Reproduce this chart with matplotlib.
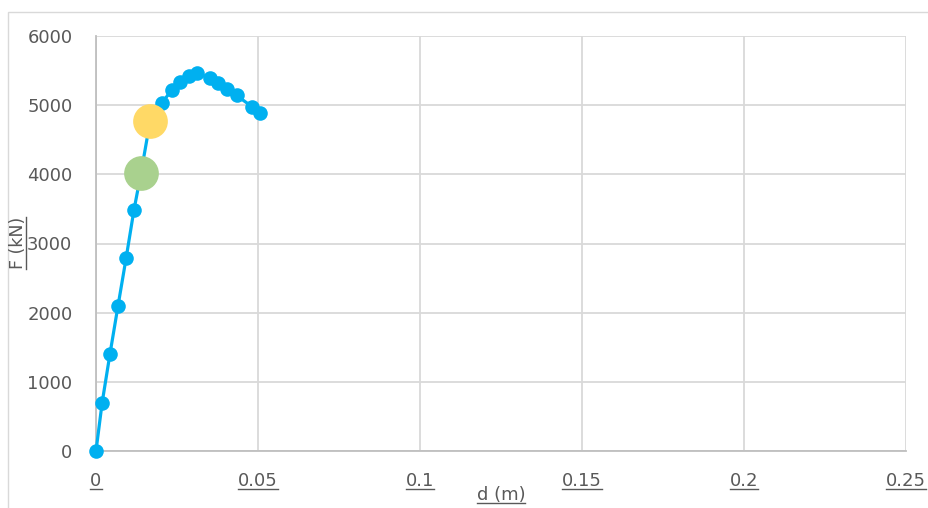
import matplotlib
matplotlib.use("Agg")
import matplotlib.pyplot as plt
from matplotlib.lines import Line2D
from matplotlib.patches import Rectangle

# ---------------------------------------------------------------------------
# Data
# ---------------------------------------------------------------------------
d_curve = [0.0, 0.0019, 0.0043, 0.0068, 0.0093, 0.0117, 0.0139, 0.0167,
           0.0203, 0.0234, 0.0259, 0.0288, 0.0313, 0.0352, 0.0378, 0.0403,
           0.0434, 0.0481, 0.0506]
f_curve = [0, 700, 1400, 2100, 2790, 3480, 4020, 4770,
           5030, 5220, 5330, 5420, 5460, 5390, 5320, 5240,
           5140, 4980, 4880]

d_green = [0.0139]
f_green = [4020]
d_yellow = [0.0167]
f_yellow = [4770]

x_ticks = [0, 0.05, 0.1, 0.15, 0.2, 0.25]
x_tick_labels = ["0", "0.05", "0.1", "0.15", "0.2", "0.25"]
y_ticks = [0, 1000, 2000, 3000, 4000, 5000, 6000]

BLUE = "#00B0F0"
GREEN = "#A9D18E"
YELLOW = "#FFD966"
TEXT_GRAY = "#595959"
GRID_GRAY = "#D9D9D9"
W, H = 929, 508

plt.rcParams["font.family"] = ["DejaVu Sans"]

fig = plt.figure(figsize=(W / 100, H / 100), dpi=100)
ax = fig.add_axes([96 / W, 57 / H, 810 / W, 415 / H])

# chart border
fig.add_artist(Rectangle((8 / W, -0.05), 1.0, 1 - 12 / H + 0.05,
                         transform=fig.transFigure, fill=False,
                         edgecolor="#D9D9D9", lw=1.0))

ax.plot(d_curve, f_curve, color=BLUE, lw=2.3, marker="o", ms=10.5,
        markeredgewidth=0, clip_on=False, zorder=3)
ax.plot(d_green, f_green, ls="none", marker="o", ms=25, color=GREEN,
        markeredgewidth=0, clip_on=False, zorder=4)
ax.plot(d_yellow, f_yellow, ls="none", marker="o", ms=25, color=YELLOW,
        markeredgewidth=0, clip_on=False, zorder=4)

ax.set_xlim(0, 0.25)
ax.set_ylim(0, 6000)
ax.set_xticks(x_ticks)
ax.set_xticklabels(x_tick_labels)
ax.set_yticks(y_ticks)
ax.grid(True, color=GRID_GRAY, lw=1.3)
ax.set_axisbelow(True)
for side in ("top", "right"):
    ax.spines[side].set_visible(False)
for side in ("left", "bottom"):
    ax.spines[side].set_color("#BFBFBF")
    ax.spines[side].set_linewidth(1.3)
ax.tick_params(length=0, labelsize=13, labelcolor=TEXT_GRAY)
ax.tick_params(axis="y", pad=17)
ax.tick_params(axis="x", pad=15)

xlab = fig.text(501 / W, 1 - 495 / H, "d (m)", ha="center", va="center",
                fontsize=13, color=TEXT_GRAY)
ylab = fig.text(18 / W, 1 - 243 / H, "F (kN)", ha="center", va="center",
                rotation=90, fontsize=12.5, color=TEXT_GRAY)

# underline the tick labels and axis titles, as in the reference
fig.canvas.draw()
renderer = fig.canvas.get_renderer()
for lab in ax.get_xticklabels() + [xlab]:
    bb = lab.get_window_extent(renderer)
    y = bb.y0 + 1
    fig.add_artist(Line2D([bb.x0 / W, bb.x1 / W], [y / H, y / H],
                          transform=fig.transFigure, color=TEXT_GRAY, lw=1.0))
bb = ylab.get_window_extent(renderer)
x = bb.x1 - 1
fig.add_artist(Line2D([x / W, x / W], [bb.y0 / H, bb.y1 / H],
                      transform=fig.transFigure, color=TEXT_GRAY, lw=1.0))

fig.savefig("out.png", dpi=100)
